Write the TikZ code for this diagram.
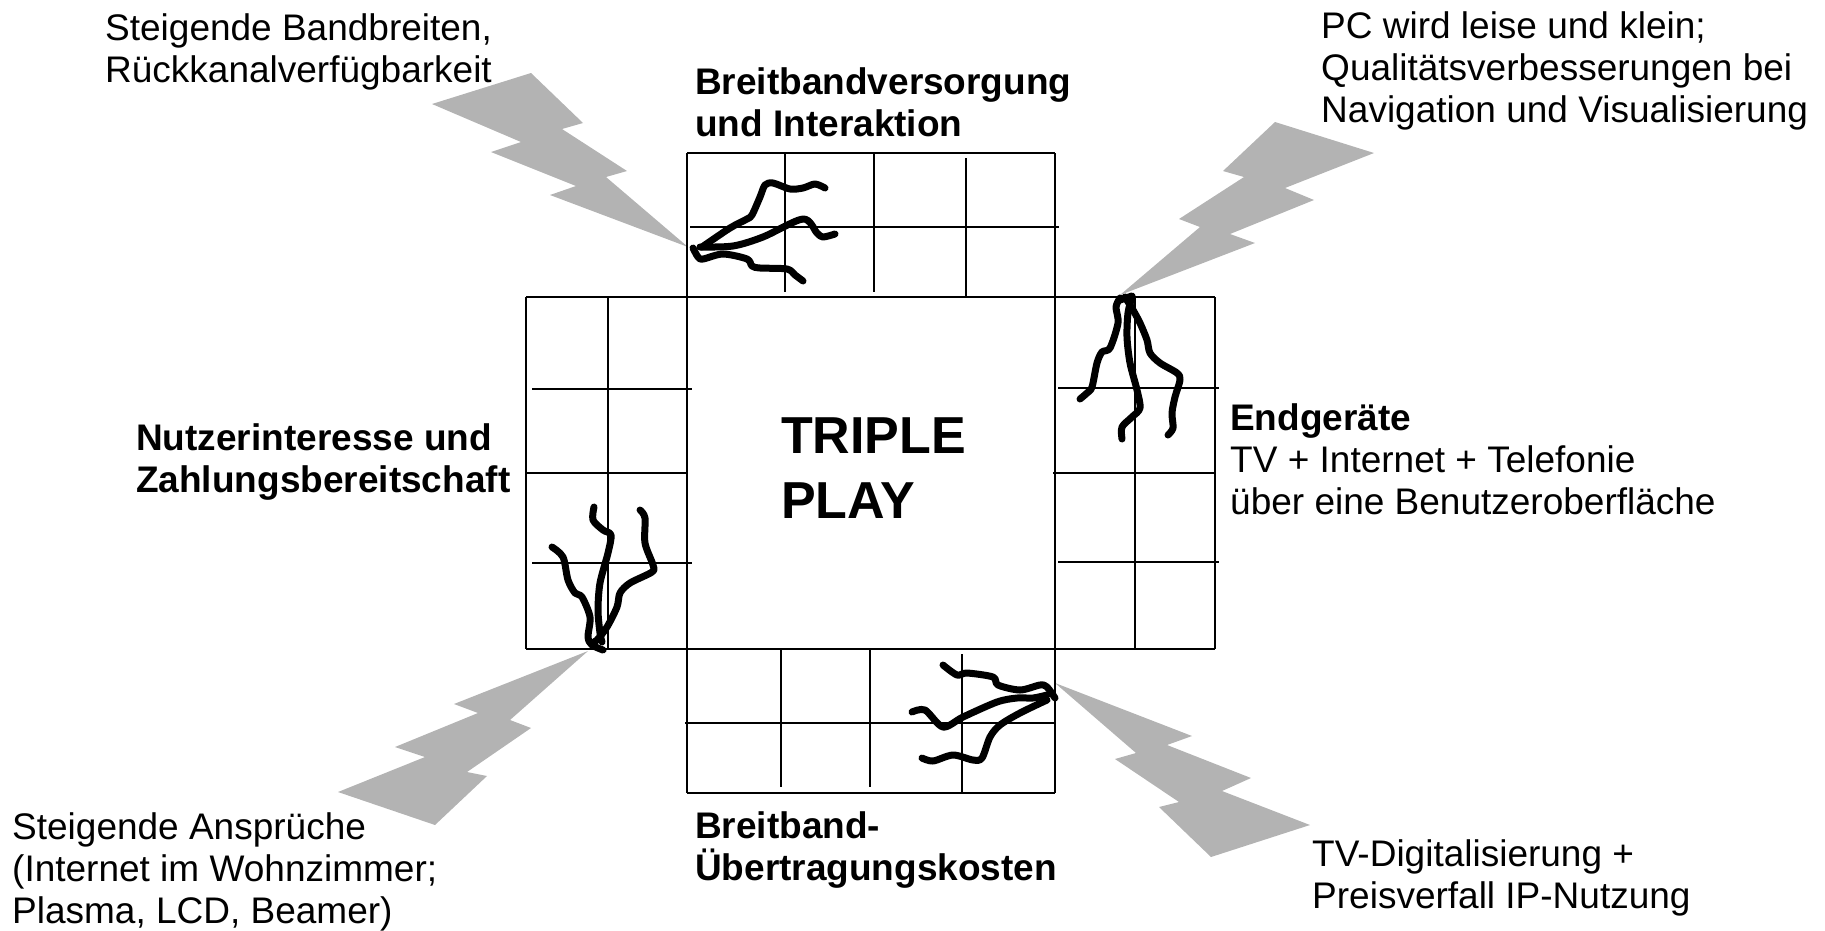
\documentclass[tikz,border=0pt]{standalone}
\usepackage{fontspec}
\setmainfont{Liberation Sans}
\definecolor{boltgray}{RGB}{179,179,179}
\tikzset{
  gridline/.style={line width=2pt, black},
  squig/.style={line width=7pt, black, line cap=round, line join=round},
  bolt/.style={fill=boltgray, draw=none},
  lbl/.style={anchor=west, align=left, inner sep=0pt, font=\fontsize{37}{42}\selectfont},
  blbl/.style={lbl, font=\fontsize{37}{42}\selectfont\bfseries},
  title/.style={anchor=west, align=left, inner sep=0pt, font=\fontsize{52}{65}\selectfont\bfseries},
}
\begin{document}
\begin{tikzpicture}[x=1pt,y=-1pt]
\useasboundingbox (0,0) rectangle (1825,930);
% lightning bolts
\fill[bolt] (432,104) -- (531,73) -- (583,123) -- (562,129) -- (627,171) -- (606,177) -- (688,247) -- (550,195) -- (576,186) -- (491,152) -- (521,142) -- cycle;
\fill[bolt] (1275,122) -- (1374,153) -- (1285,188) -- (1314,200) -- (1230,234) -- (1255,243) -- (1120,295) -- (1200,227) -- (1179,219) -- (1244,177) -- (1223,171) -- cycle;
\fill[bolt] (588,651) -- (510,720) -- (531,728) -- (467,772) -- (487,776) -- (435,825) -- (338,792) -- (425,757) -- (395,747) -- (478,713) -- (454,704) -- cycle;
\fill[bolt] (1055,683) -- (1192,736) -- (1167,745) -- (1251,778) -- (1222,791) -- (1310,825) -- (1211,857) -- (1159,807) -- (1179,802) -- (1115,759) -- (1136,753) -- cycle;
% cross frame
\draw[gridline] (687,153) -- (687,793);
\draw[gridline] (1055,153) -- (1055,793);
\draw[gridline] (526,297) -- (1215,297);
\draw[gridline] (526,649) -- (1215,649);
\draw[gridline] (687,153) -- (1055,153);
\draw[gridline] (687,793) -- (1055,793);
\draw[gridline] (526,297) -- (526,649);
\draw[gridline] (1215,297) -- (1215,649);
% top panel grid
\draw[gridline] (690,227) -- (1059,227);
\draw[gridline] (785,153) -- (785,292);
\draw[gridline] (874,153) -- (874,292);
\draw[gridline] (966,158) -- (966,297);
% left panel grid
\draw[gridline] (608,297) -- (608,649);
\draw[gridline] (532,389) -- (692,389);
\draw[gridline] (526,473) -- (687,473);
\draw[gridline] (532,563) -- (692,563);
% right panel grid
\draw[gridline] (1135,297) -- (1135,649);
\draw[gridline] (1058,388) -- (1219,388);
\draw[gridline] (1053,473) -- (1215,473);
\draw[gridline] (1058,562) -- (1219,562);
% bottom panel grid
\draw[gridline] (685,723) -- (1056,723);
\draw[gridline] (781,649) -- (781,787);
\draw[gridline] (870,649) -- (870,787);
\draw[gridline] (962,654) -- (962,793);
% squiggles top
\draw[squig] plot[smooth, tension=0.5] coordinates {(702,247) (730,228) (747,219) (752,215) (760,197) (765,185) (773,183) (790,189) (803,188) (815,184) (825,188)};
\draw[squig] plot[smooth, tension=0.5] coordinates {(700,247) (733,246) (763,237) (803,219) (817,233) (823,237) (835,234)};
\draw[squig] plot[smooth, tension=0.5] coordinates {(693,248) (698,257) (703,259) (723,254) (747,259) (752,266) (760,268) (787,269) (795,275) (803,281)};
% squiggles right
\draw[squig] plot[smooth, tension=0.5] coordinates {(1120,298) (1116,307) (1118,323) (1110,348) (1102,352) (1097,363) (1092,387) (1087,393) (1080,399)};
\draw[squig] plot[smooth, tension=0.5] coordinates {(1132,297) (1128,313) (1127,337) (1130,363) (1137,390) (1140,408) (1132,417) (1122,427) (1122,439)};
\draw[squig] plot[smooth, tension=0.5] coordinates {(1125,297) (1133,310) (1140,323) (1147,340) (1150,353) (1160,363) (1177,373) (1180,380) (1175,397) (1172,413) (1173,428) (1168,435)};
\draw[squig] (1120,300) -- (1132,296);
% squiggles left
\draw[squig] plot[smooth, tension=0.5] coordinates {(552,547) (563,557) (568,580) (575,593) (582,597) (590,617) (588,637) (592,645) (603,650)};
\draw[squig] plot[smooth, tension=0.5] coordinates {(594,507) (593,520) (603,530) (611,535) (608,553) (600,583) (598,610) (600,633) (602,642)};
\draw[squig] plot[smooth, tension=0.5] coordinates {(640,510) (645,518) (645,543) (653,565) (652,572) (630,583) (620,593) (617,607) (607,627) (597,640) (592,643)};
% squiggles bottom
\draw[squig] plot[smooth, tension=0.5] coordinates {(943,665) (957,675) (967,673) (993,677) (998,685) (1020,690) (1040,685) (1047,687) (1055,698)};
\draw[squig] plot[smooth, tension=0.5] coordinates {(912,712) (925,710) (943,727) (963,717) (997,702) (1017,698) (1033,698) (1047,695)};
\draw[squig] plot[smooth, tension=0.5] coordinates {(922,758) (933,761) (953,755) (973,760) (982,758) (990,737) (1000,725) (1020,713) (1047,700)};
% texts
\node[title] (tp) at (781,468) {TRIPLE\\PLAY};
\node[lbl] (tl) at (105,52) {Steigende Bandbreiten,\\Rückkanalverfügbarkeit};
\node[lbl] (tr) at (1321,71) {PC wird leise und klein;\\Qualitätsverbesserungen bei\\Navigation und Visualisierung};
\node[blbl] (top) at (695,102) {Breitbandversorgung\\und Interaktion};
\node[blbl] (left) at (136,462) {Nutzerinteresse und\\Zahlungsbereitschaft};
\node[lbl] (right) at (1230,459) {\textbf{Endgeräte}\\TV + Internet + Telefonie\\über eine Benutzeroberfläche};
\node[blbl] (bottom) at (695,850) {Breitband-\\Übertragungskosten};
\node[lbl] (bl) at (12,872) {Steigende Ansprüche\\(Internet im Wohnzimmer;\\Plasma, LCD, Beamer)};
\node[lbl] (br) at (1312,878) {TV-Digitalisierung +\\Preisverfall IP-Nutzung};
\end{tikzpicture}
\end{document}
